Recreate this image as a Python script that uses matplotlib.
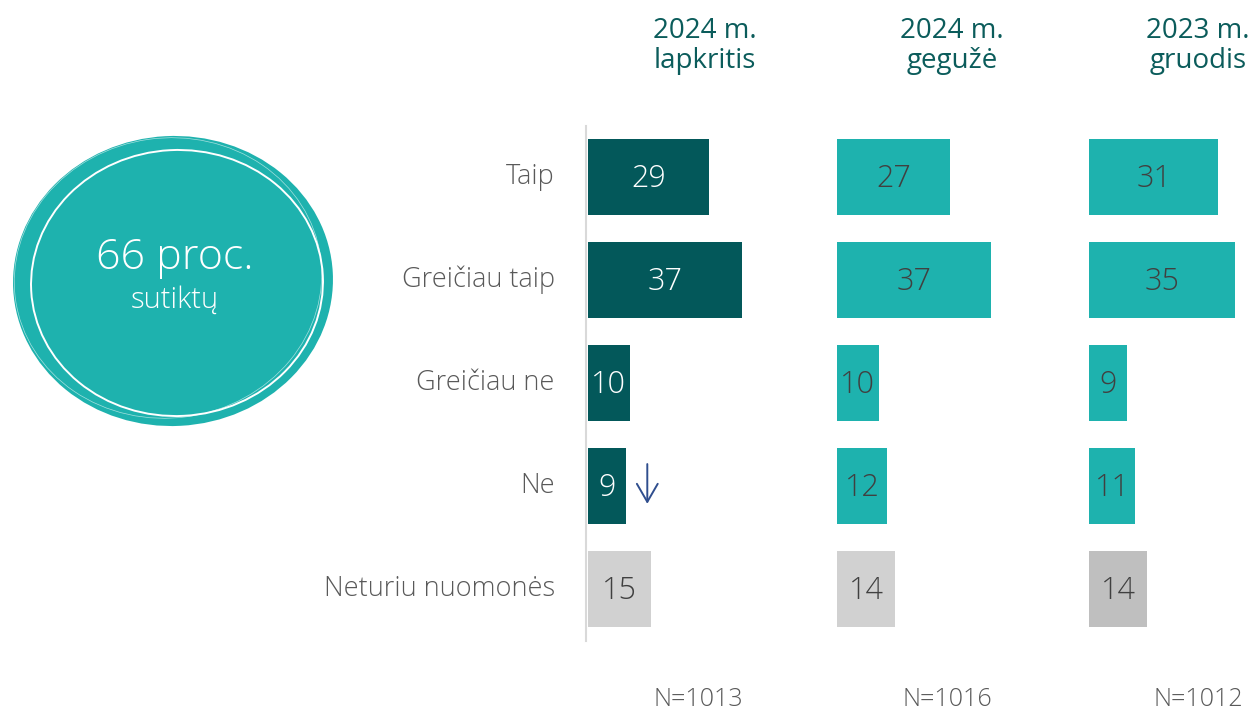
import matplotlib.pyplot as plt
from matplotlib.patches import Ellipse

# --- data ---
categories = ["Taip", "Greičiau taip", "Greičiau ne", "Ne", "Neturiu nuomonės"]
nov_2024 = [29, 37, 10, 9, 15]
may_2024 = [27, 37, 10, 12, 14]
dec_2023 = [31, 35, 9, 11, 14]
headers = ["2024 m.\nlapkritis", "2024 m.\ngegužė", "2023 m.\ngruodis"]
sample_sizes = ["N=1013", "N=1016", "N=1012"]
agree_share = "66 proc."

W, H = 1254, 714
plt.rcParams['font.family'] = ['Open Sans', 'DejaVu Sans']

DARK = "#03585A"
TEAL = "#1EB2AE"
GREY = "#D1D1D1"
GREY2 = "#BFBFBF"
HEAD = "#0B5C5B"
LABEL = "#595959"

fig = plt.figure(figsize=(W / 100, H / 100), dpi=100)


def px_axes(left, top, width, height):
    return fig.add_axes([left / W, 1 - (top + height) / H, width / W, height / H])


# background overlay for circle + texts in pixel coords
bg = px_axes(0, 0, W, H)
bg.set_xlim(0, W)
bg.set_ylim(H, 0)
bg.axis("off")

bg.add_patch(Ellipse((173, 281), 320, 290, angle=-3, color=TEAL, lw=0))
bg.add_patch(Ellipse((177, 283), 292, 266, angle=-3, fill=False, ec="white", lw=1.4))
bg.add_patch(Ellipse((168, 278), 308, 280, angle=-8, fill=False, ec="white", lw=0.5, alpha=0.6))
bg.text(175, 258, agree_share, color="white", fontsize=31, fontweight="light",
        ha="center", va="center")
bg.text(175, 300, "sutiktų", color="white", fontsize=21, fontweight="light",
        ha="center", va="center")

header_x = [705, 952, 1198]
n_x = [698, 947, 1198]
for hx, htxt in zip(header_x, headers):
    bg.text(hx, 46, htxt, color=HEAD, fontsize=20, ha="center", va="center",
            linespacing=1.1)
for nx, ntxt in zip(n_x, sample_sizes):
    bg.text(nx, 700, ntxt, color=LABEL, fontsize=18, fontweight="light",
            ha="center", va="center")

PX_PER_UNIT = 4.17
panels = [
    (586, nov_2024, [DARK] * 4 + [GREY], ["white"] * 4 + ["#404040"]),
    (835, may_2024, [TEAL] * 4 + [GREY], ["#404040"] * 5),
    (1087, dec_2023, [TEAL] * 4 + [GREY2], ["#404040"] * 5),
]

ypos = list(range(len(categories)))
for i, (left, vals, cols, tcols) in enumerate(panels):
    width = 165
    ax = px_axes(left, 125.5, width, 515)
    ax.barh(ypos, vals, height=0.74, color=cols, left=0)
    ax.set_xlim(-0.5, width / PX_PER_UNIT - 0.5)
    ax.set_ylim(4.5, -0.5)
    ax.set_xticks([])
    ax.set_yticks([])
    for s in ["top", "right", "bottom"]:
        ax.spines[s].set_visible(False)
    if i == 0:
        ax.spines["left"].set_color("#D9D9D9")
        ax.spines["left"].set_linewidth(1.5)
        for y, cat in zip(ypos, categories):
            ax.text(-8, y, cat, color=LABEL, fontsize=19.5, fontweight="light",
                    ha="right", va="center")
        ax.annotate("", xy=(14.2, 3.2), xytext=(14.2, 2.76),
                    arrowprops=dict(arrowstyle="->,head_width=0.75,head_length=1.3",
                                    color="#2F4E8E", lw=1.4))
    else:
        ax.spines["left"].set_visible(False)
    ax.patch.set_alpha(0)
    for y, v, tc in zip(ypos, vals, tcols):
        ax.text(v / 2, y + 0.02, str(v), color=tc, fontsize=22, fontweight="light",
                ha="center", va="center")

fig.savefig("out.png", dpi=100)
